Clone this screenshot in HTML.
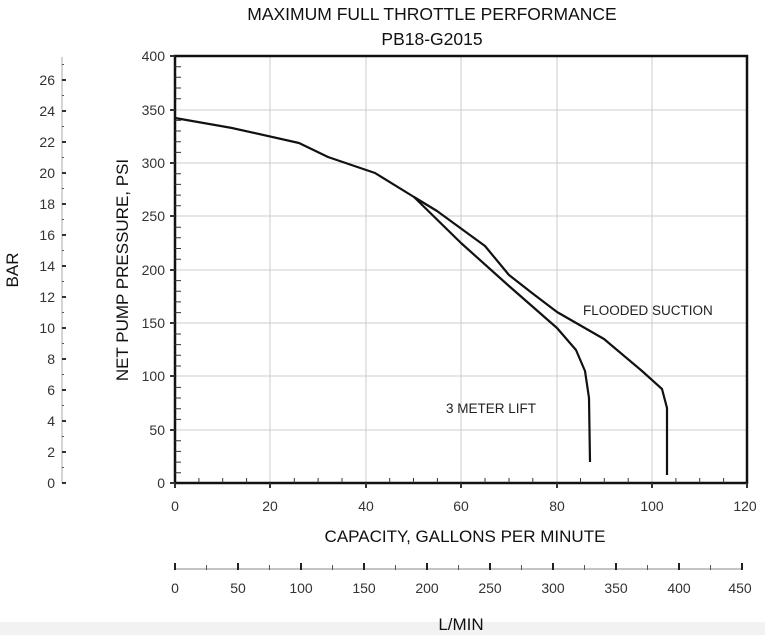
<!DOCTYPE html>
<html><head><style>body{margin:0;background:#fff}</style></head><body>
<svg width="765" height="635" xmlns="http://www.w3.org/2000/svg" font-family="Liberation Sans, Arial, sans-serif">
<rect width="765" height="635" fill="#fff"/>
<rect y="622" width="765" height="13" fill="#f2f2f2"/>
<text x="432" y="20" font-size="17.5" text-anchor="middle" fill="#111">MAXIMUM FULL THROTTLE PERFORMANCE</text>
<text x="432" y="45" font-size="17.5" text-anchor="middle" fill="#111">PB18-G2015</text>
<g stroke="#ccc" stroke-width="1">
<line x1="270" y1="56" x2="270" y2="483"/><line x1="366" y1="56" x2="366" y2="483"/>
<line x1="461" y1="56" x2="461" y2="483"/><line x1="557" y1="56" x2="557" y2="483"/>
<line x1="652" y1="56" x2="652" y2="483"/>
<line x1="175" y1="110" x2="747" y2="110"/><line x1="175" y1="163" x2="747" y2="163"/>
<line x1="175" y1="216" x2="747" y2="216"/><line x1="175" y1="270" x2="747" y2="270"/>
<line x1="175" y1="323" x2="747" y2="323"/><line x1="175" y1="376" x2="747" y2="376"/>
<line x1="175" y1="430" x2="747" y2="430"/>
</g>
<rect x="175" y="56" width="572" height="427" fill="none" stroke="#111" stroke-width="2.5"/>
<g stroke="#333" stroke-width="1">
<path d="M175 66.7h6M175 77.3h6M175 88h6M175 98.7h6M175 120.4h6M175 131h6M175 141.7h6M175 152.4h6M175 173.8h6M175 184.4h6M175 195.1h6M175 205.8h6M175 227.2h6M175 237.8h6M175 248.5h6M175 259.2h6M175 280.6h6M175 291.2h6M175 301.9h6M175 312.6h6M175 334h6M175 344.6h6M175 355.3h6M175 366h6M175 387.4h6M175 398h6M175 408.7h6M175 419.4h6M175 440.8h6M175 451.4h6M175 462.1h6M175 472.8h6"/>
<path d="M198.9 483v-5M222.7 483v-5M246.6 483v-5M294.3 483v-5M318.1 483v-5M342 483v-5M389.7 483v-5M413.5 483v-5M437.4 483v-5M485 483v-5M509 483v-5M532.8 483v-5M580.5 483v-5M604.3 483v-5M628.2 483v-5M675.9 483v-5M699.7 483v-5M723.6 483v-5"/>
<path d="M170 56h5M170 110h5M170 163h5M170 216h5M170 270h5M170 323h5M170 376h5M170 430h5M170 483h5" stroke-width="2"/>
<path d="M270 483v5M366 483v5M461 483v5M557 483v5M652 483v5M175 483v5M747 483v5" stroke-width="2"/>
</g>
<g font-size="14" fill="#333" text-anchor="end">
<text x="165" y="61">400</text><text x="165" y="115">350</text><text x="165" y="168">300</text>
<text x="165" y="221">250</text><text x="165" y="275">200</text><text x="165" y="328">150</text>
<text x="165" y="381">100</text><text x="165" y="435">50</text><text x="165" y="488">0</text>
</g>
<g font-size="14" fill="#333" text-anchor="middle">
<text x="175" y="511">0</text><text x="270" y="511">20</text><text x="366" y="511">40</text>
<text x="461" y="511">60</text><text x="557" y="511">80</text><text x="652" y="511">100</text><text x="745" y="511">120</text>
</g>
<text x="465" y="542" font-size="17" text-anchor="middle" fill="#111">CAPACITY, GALLONS PER MINUTE</text>
<text x="128" y="270" font-size="17" text-anchor="middle" fill="#111" transform="rotate(-90 128 270)">NET PUMP PRESSURE, PSI</text>
<line x1="62" y1="57" x2="62" y2="483" stroke="#aaa" stroke-width="1"/>
<g stroke="#333" stroke-width="2">
<path d="M62 483h4M62 452h4M62 421h4M62 390h4M62 359h4M62 328h4M62 297h4M62 266h4M62 235h4M62 204h4M62 173h4M62 142h4M62 111h4M62 80h4"/>
</g>
<g stroke="#555" stroke-width="1">
<path d="M62 467.5h2M62 436.5h2M62 405.5h2M62 374.5h2M62 343.5h2M62 312.5h2M62 281.5h2M62 250.5h2M62 219.5h2M62 188.5h2M62 157.5h2M62 126.5h2M62 95.5h2M62 64.5h2"/>
</g>
<g font-size="14" fill="#333" text-anchor="end">
<text x="55" y="488">0</text><text x="55" y="457">2</text><text x="55" y="426">4</text><text x="55" y="395">6</text>
<text x="55" y="364">8</text><text x="55" y="333">10</text><text x="55" y="302">12</text><text x="55" y="271">14</text>
<text x="55" y="240">16</text><text x="55" y="209">18</text><text x="55" y="178">20</text><text x="55" y="147">22</text>
<text x="55" y="116">24</text><text x="55" y="85">26</text>
</g>
<text x="18" y="270" font-size="17" text-anchor="middle" fill="#111" transform="rotate(-90 18 270)">BAR</text>
<line x1="175" y1="569" x2="742" y2="569" stroke="#888" stroke-width="1"/>
<g stroke="#222" stroke-width="2">
<path d="M175 563v7M238 563v7M301 563v7M364 563v7M427 563v7M490 563v7M553 563v7M616 563v7M679 563v7M742 563v7"/>
</g>
<g stroke="#555" stroke-width="1"><path d="M206.5 565v5M269.5 565v5M332.5 565v5M395.5 565v5M458.5 565v5M521.5 565v5M584.5 565v5M647.5 565v5M710.5 565v5"/></g>
<g font-size="14" fill="#333" text-anchor="middle">
<text x="175" y="593">0</text><text x="238" y="593">50</text><text x="301" y="593">100</text><text x="364" y="593">150</text>
<text x="427" y="593">200</text><text x="490" y="593">250</text><text x="553" y="593">300</text><text x="616" y="593">350</text>
<text x="679" y="593">400</text><text x="740" y="593">450</text>
</g>
<text x="461" y="630" font-size="17" text-anchor="middle" fill="#111">L/MIN</text>
<g fill="none" stroke="#111" stroke-width="2.2" stroke-linejoin="round">
<path d="M175 118 L232 128 L299 143 L328 157 L375 173 L414 197 L461 243 L509 286 L557 328 L576 350 L585 371 L589 398 L590 462"/>
<path d="M414 197 L437 211 L485 246 L509 275 L532 293 L557 312 L604 339 L642 371 L662 389 L667 408 L667 475"/>
</g>
<text x="583" y="315" font-size="13.5" fill="#222">FLOODED SUCTION</text>
<text x="446" y="413" font-size="13.5" fill="#222">3 METER LIFT</text>
</svg>
</body></html>
